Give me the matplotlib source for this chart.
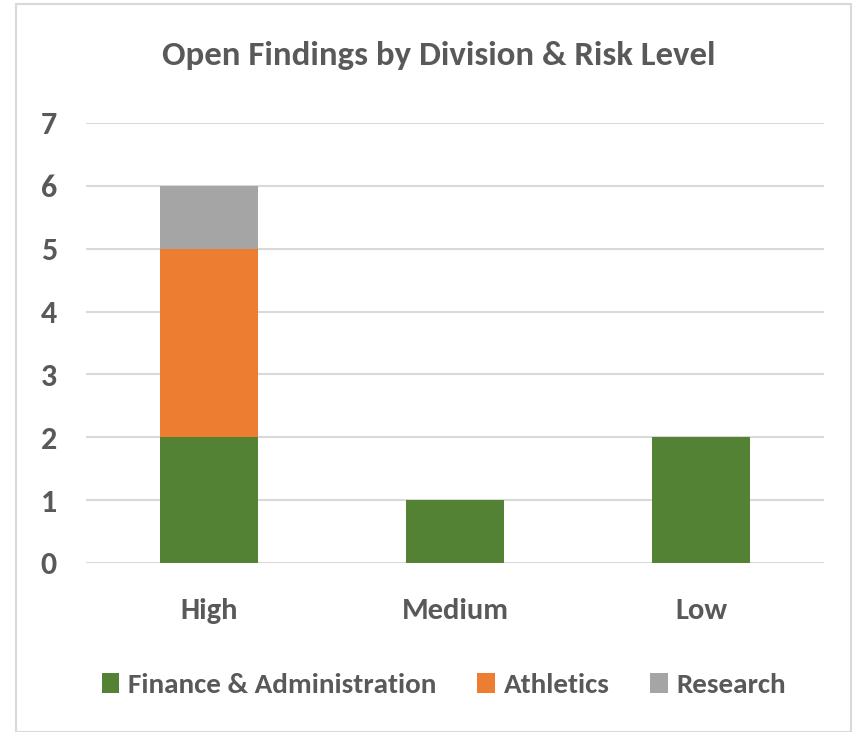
import matplotlib
matplotlib.use("Agg")
import matplotlib.pyplot as plt
from matplotlib import font_manager
import numpy as np

categories = ["High", "Medium", "Low"]
series_names = ["Finance & Administration", "Athletics", "Research"]
finance = [2, 1, 2]
athletics = [3, 0, 0]
research = [1, 0, 0]
yticks = [0, 1, 2, 3, 4, 5, 6, 7]
colors = ["#548235", "#ED7D31", "#A5A5A5"]

names = {f.name for f in font_manager.fontManager.ttflist}
fam = next((f for f in ["Carlito", "Archivo Narrow", "Liberation Sans Narrow", "Roboto"] if f in names), "DejaVu Sans")
plt.rcParams['font.family'] = [fam, 'DejaVu Sans']
txt = "#595959"

fig = plt.figure(figsize=(8.56, 7.32), dpi=100)
fig.patches.append(plt.Rectangle((16/856, 0), (851-16)/856, (732-4)/732, transform=fig.transFigure,
                                 fill=False, edgecolor="#d9d9d9", linewidth=1.5))
ax = fig.add_axes([86/856, 1-563/732, (824-86)/856, (563-123)/732])
x = np.arange(len(categories))
bottom = np.zeros(len(categories))
for name, vals, c in zip(series_names, [finance, athletics, research], colors):
    ax.bar(x, vals, width=0.4, bottom=bottom, color=c, label=name, zorder=3)
    bottom += np.array(vals)
ax.set_xlim(-0.5, 2.5)
ax.set_ylim(0, 7)
ax.set_yticks(yticks)
ax.set_xticks(x)
ax.set_xticklabels(categories)
ax.grid(axis='y', color="#d9d9d9", linewidth=1.5, zorder=0)
for s in ax.spines.values():
    s.set_visible(False)
ax.tick_params(length=0, labelcolor=txt)
ax.tick_params(axis='y', pad=21, labelsize=23)
ax.tick_params(axis='x', pad=25, labelsize=22)
for lab in ax.get_xticklabels() + ax.get_yticklabels():
    lab.set_fontweight('bold')
fig.text(439/856, 1-56/732, "Open Findings by Division & Risk Level", ha='center', va='center',
         fontsize=25, fontweight='bold', color=txt)
leg = fig.legend(loc='center', bbox_to_anchor=(444/856, 1-685/732), ncol=3, frameon=False,
                 prop={'size': 21, 'weight': 'bold'}, handlelength=0.6, handleheight=0.7,
                 handletextpad=0.3, columnspacing=1.4)
for t in leg.get_texts():
    t.set_color(txt)
fig.savefig("out.png", dpi=100)
